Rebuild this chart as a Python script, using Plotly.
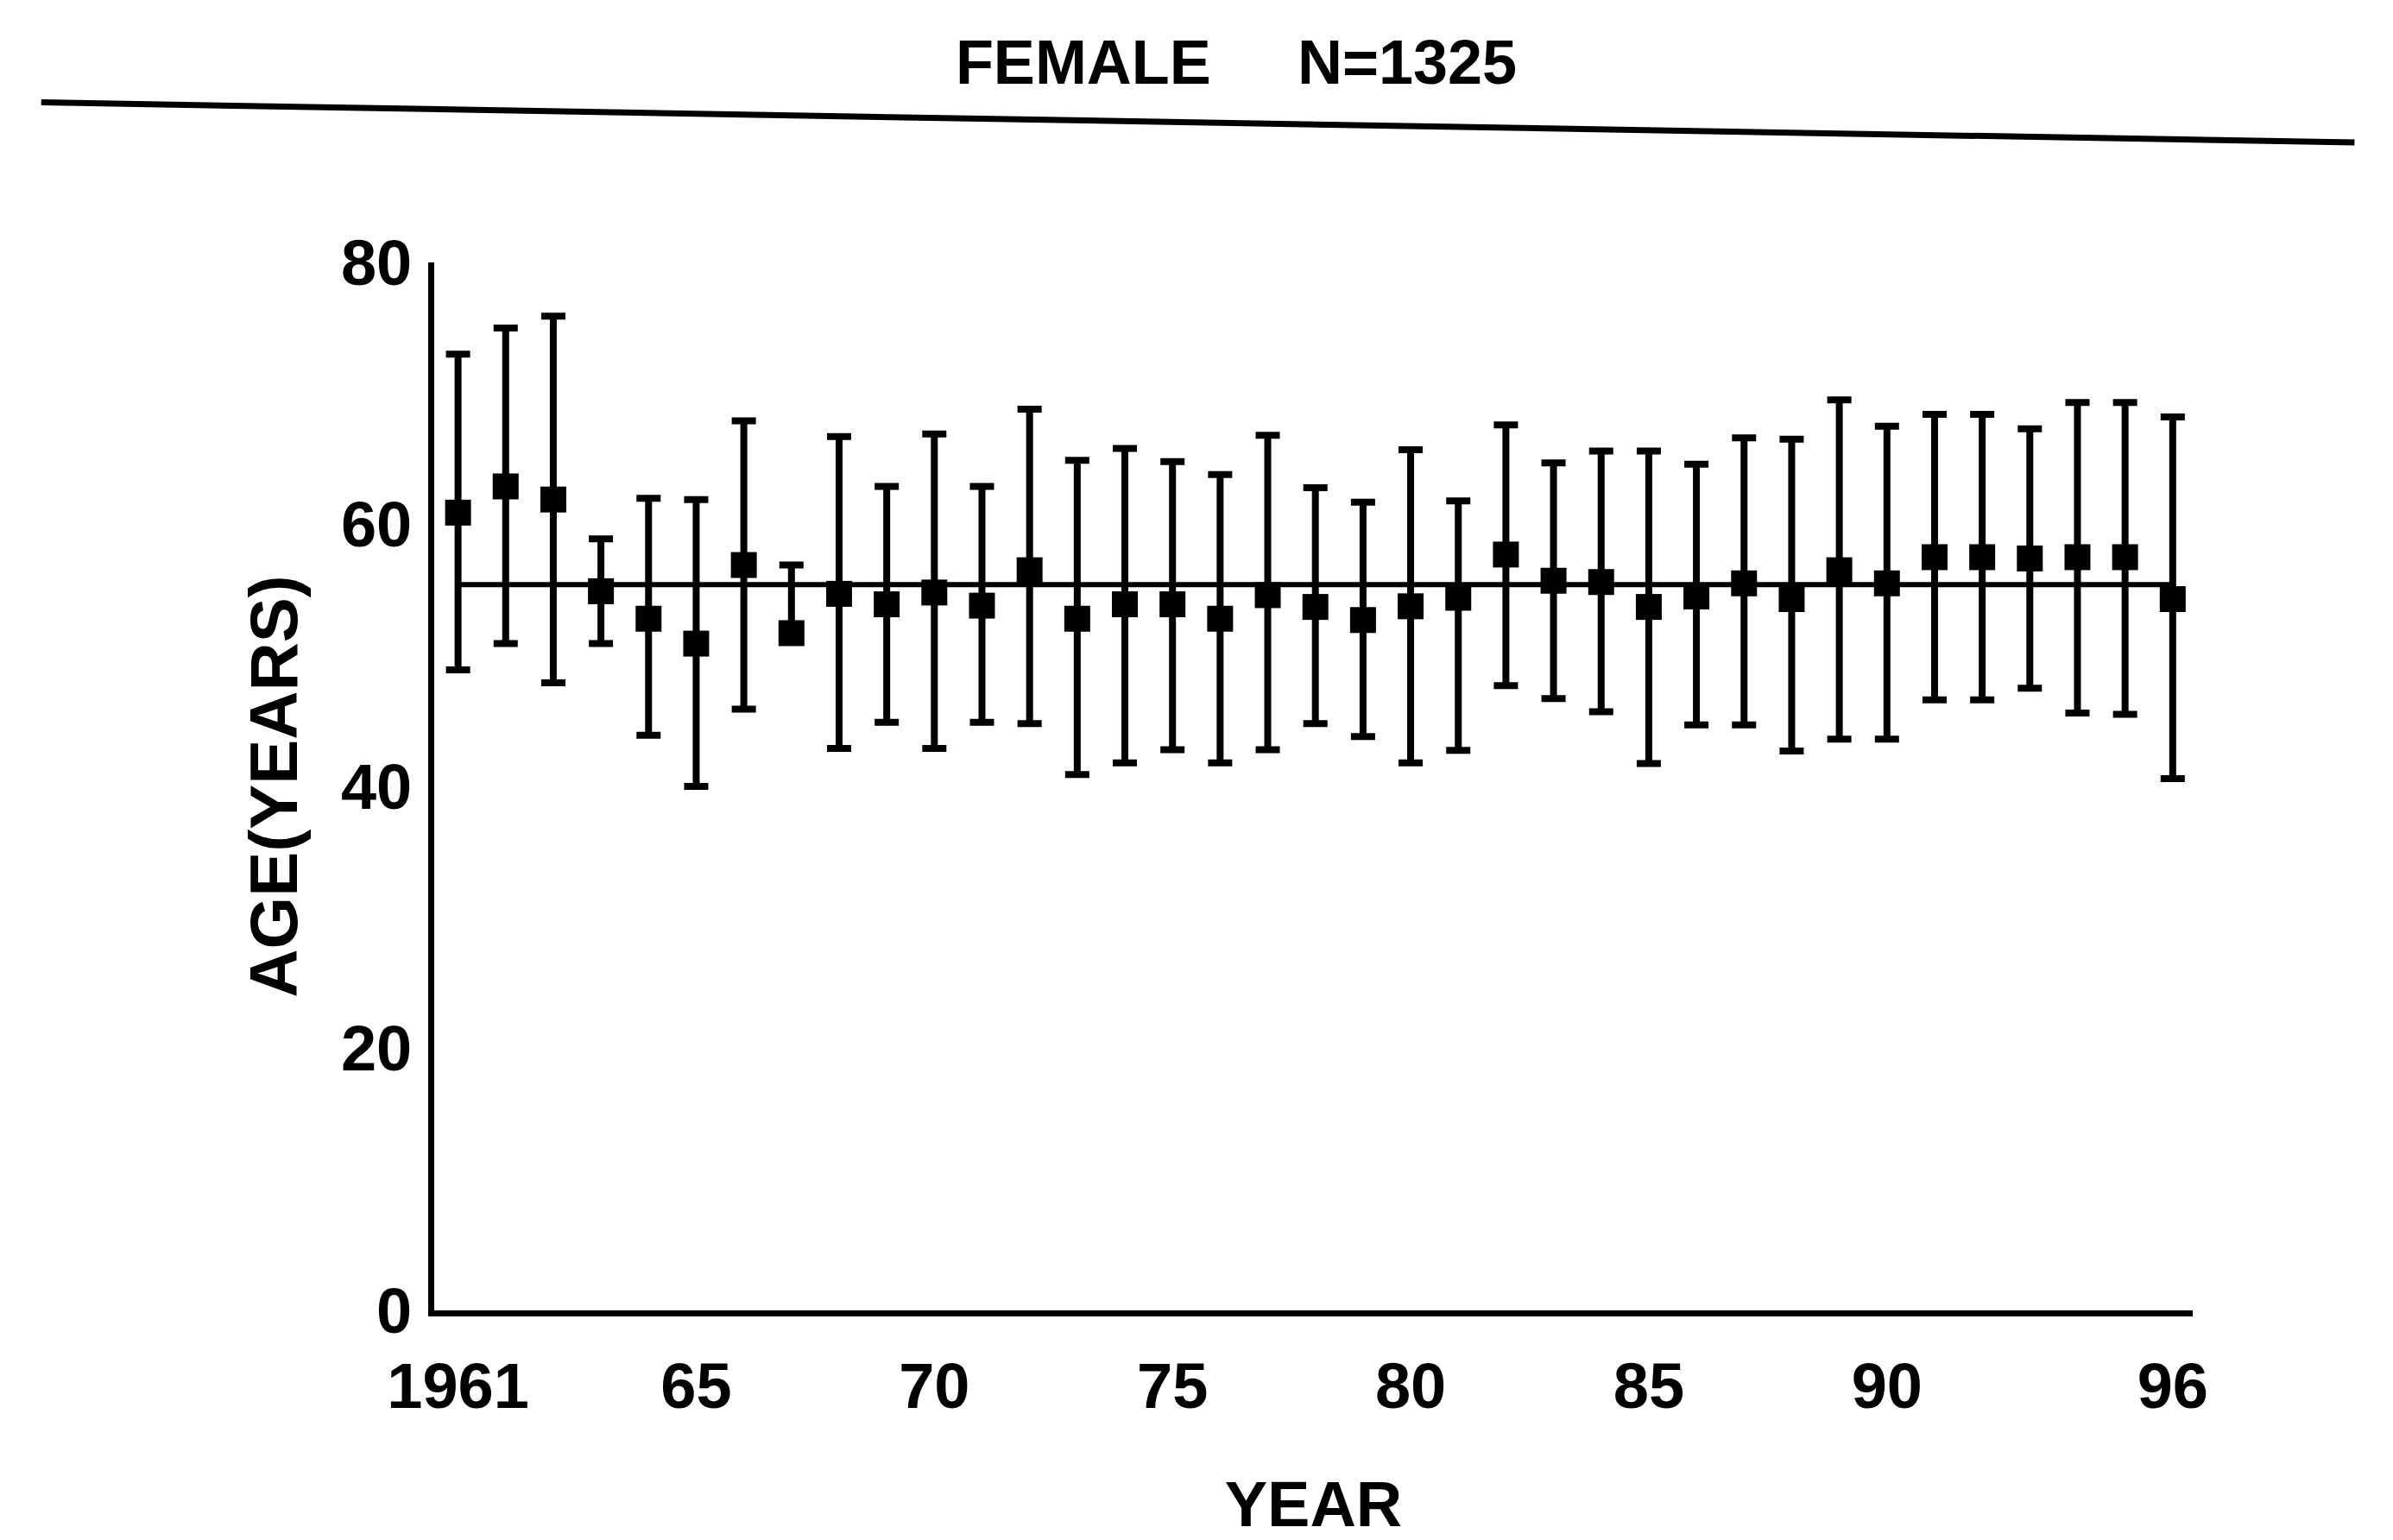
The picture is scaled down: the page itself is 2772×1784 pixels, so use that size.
import plotly.graph_objects as go

# ---- data ----
years = list(range(1960, 1997))  # 37 yearly points
mean_age = [60.9, 62.9, 61.9, 54.9, 52.8, 50.9, 56.9, 51.7, 54.7, 53.9,
            54.8, 53.8, 56.5, 52.8, 53.9, 53.9, 52.8, 54.6, 53.7, 52.7,
            53.75, 54.4, 57.7, 55.7, 55.6, 53.7, 54.5, 55.5, 54.3, 56.5,
            55.5, 57.5, 57.5, 57.4, 57.5, 57.5, 54.3]
upper_age = [73.0, 75.0, 75.9, 58.9, 62.0, 61.9, 67.9, 56.9, 66.7, 62.9,
             66.9, 62.9, 68.8, 64.9, 65.8, 64.8, 63.8, 66.8, 62.8, 61.7,
             65.7, 61.8, 67.6, 64.7, 65.6, 65.6, 64.6, 66.6, 66.5, 69.5,
             67.5, 68.4, 68.4, 67.3, 69.3, 69.3, 68.2]
lower_age = [48.9, 50.9, 47.9, 50.9, 43.9, 40.0, 45.9, 51.2, 42.9, 44.9,
             42.9, 44.9, 44.8, 40.9, 41.8, 42.8, 41.8, 42.8, 44.8, 43.8,
             41.8, 42.75, 47.7, 46.7, 45.7, 41.75, 44.7, 44.7, 42.7, 43.6,
             43.6, 46.6, 46.6, 47.5, 45.6, 45.5, 40.6]
fit_years = [1960, 1996]
fit_age = [55.4, 55.4]

x_tickvals = [1960, 1965, 1970, 1975, 1980, 1985, 1990, 1996]
x_ticktext = ["1961", "65", "70", "75", "80", "85", "90", "96"]
y_tickvals = [0, 20, 40, 60, 80]

err_plus = [u - m for u, m in zip(upper_age, mean_age)]
err_minus = [m - l for m, l in zip(mean_age, lower_age)]

FONT = "Liberation Sans"

fig = go.Figure()
fig.add_trace(go.Scatter(
    x=fit_years, y=fit_age, mode="lines",
    line=dict(color="black", width=6), showlegend=False, hoverinfo="skip"))
fig.add_trace(go.Scatter(
    x=years, y=mean_age, mode="markers",
    marker=dict(symbol="square", size=30, color="black"),
    error_y=dict(type="data", symmetric=False, array=err_plus,
                 arrayminus=err_minus, color="black", thickness=8, width=14),
    showlegend=False))

fig.update_layout(
    width=2772, height=1784,
    margin=dict(l=503, r=232, t=304, b=222),
    paper_bgcolor="white", plot_bgcolor="white",
    font=dict(family=FONT, color="black"),
    title=dict(text="FEMALE\u00a0\u00a0\u00a0\u00a0\u00a0N=1325",
               x=0.5166, y=0.960, xref="container", yref="container",
               xanchor="center", yanchor="middle",
               font=dict(family=FONT, size=72, weight="bold", color="black")),
    shapes=[dict(type="line", xref="paper", yref="paper",
                 x0=-0.2235, y0=1.1527, x1=1.092, y1=1.1145,
                 line=dict(color="black", width=7))],
)
fig.update_xaxes(
    range=[1959.5, 1996.42], tickmode="array", tickvals=x_tickvals,
    ticktext=x_ticktext, showgrid=False, zeroline=False, showline=True,
    linecolor="black", linewidth=7, ticks="", ticklabelstandoff=17,
    tickfont=dict(family=FONT, size=74, weight="bold", color="black"),
    title=dict(text="YEAR", standoff=73,
               font=dict(family=FONT, size=74, weight="bold", color="black")))
fig.update_yaxes(
    range=[0, 80], tickmode="array", tickvals=y_tickvals,
    showgrid=False, zeroline=False, showline=True,
    linecolor="black", linewidth=7, ticks="", ticklabelstandoff=4,
    tickfont=dict(family=FONT, size=74, weight="bold", color="black"),
    title=dict(text="AGE(YEARS)", standoff=27,
               font=dict(family=FONT, size=78, weight="bold", color="black")))

fig.write_html("out.html", config={"displayModeBar": False},
               post_script="document.body.style.margin='0';")
